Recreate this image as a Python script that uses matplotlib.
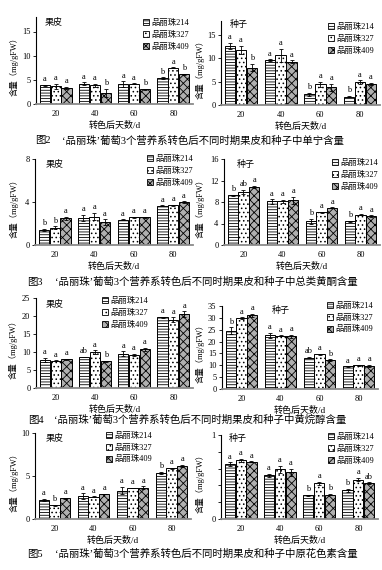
import matplotlib
matplotlib.use('Agg')
import matplotlib.pyplot as plt
from matplotlib.patches import Patch
import numpy as np

plt.rcParams['font.family'] = ['Liberation Serif', 'Noto Sans CJK SC']
plt.rcParams['hatch.linewidth'] = 0.6
plt.rcParams['axes.unicode_minus'] = False

W, H = 382, 570
fig = plt.figure(figsize=(W / 100, H / 100), dpi=100)

days = ['20', '40', '60', '80']
clones = ['品丽珠214', '品丽珠327', '品丽珠409']
xlabel_text = '转色后天数/d'
ylabel_text = '含量（mg/gFW）'

# Fig 2: tannin
tannin_skin = [[3.9, 4.2, 4.1, 5.3], [3.7, 3.9, 4.2, 7.5], [3.4, 2.3, 3.1, 6.2]]
tannin_skin_err = [[0.1, 0.3, 0.6, 0.2], [0.5, 0.3, 0.1, 0.1], [0.2, 0.8, 0.1, 0.1]]
tannin_skin_sig = [['a', 'a', 'a', 'b'], ['a', 'a', 'a', 'a'], ['a', 'b', 'b', 'b']]
tannin_seed = [[12.7, 9.6, 2.3, 1.8], [11.8, 10.7, 4.4, 4.9], [8.0, 9.3, 3.8, 4.5]]
tannin_seed_err = [[0.6, 0.2, 0.3, 0.1], [0.9, 1.4, 0.5, 0.4], [0.8, 0.3, 0.8, 0.2]]
tannin_seed_sig = [['a', 'a', 'b', 'b'], ['a', 'a', 'a', 'a'], ['b', 'a', 'a', 'a']]

# Fig 3: total flavonoids
flav_skin = [[1.4, 2.5, 2.35, 3.65], [1.6, 2.65, 2.6, 3.7], [2.5, 2.15, 2.6, 4.0]]
flav_skin_err = [[0.1, 0.3, 0.05, 0.05], [0.15, 0.35, 0.05, 0.05], [0.15, 0.25, 0.05, 0.05]]
flav_skin_sig = [['b', 'a', 'a', 'a'], ['b', 'a', 'a', 'a'], ['a', 'a', 'a', 'a']]
flav_seed = [[9.25, 8.1, 4.4, 4.4], [9.9, 8.1, 6.1, 5.65], [10.75, 8.3, 6.9, 5.4]]
flav_seed_err = [[0.1, 0.4, 0.5, 0.05], [0.4, 0.3, 0.1, 0.1], [0.2, 0.7, 0.1, 0.1]]
flav_seed_sig = [['b', 'a', 'b', 'b'], ['ab', 'a', 'a', 'a'], ['a', 'a', 'a', 'a']]

# Fig 4: flavanols
flavanol_skin = [[7.8, 8.6, 9.5, 19.6], [7.6, 10.0, 9.1, 18.9], [8.0, 7.4, 10.7, 20.5]]
flavanol_skin_err = [[0.5, 0.1, 0.7, 0.2], [0.1, 0.5, 0.3, 0.7], [0.1, 0.2, 0.5, 0.8]]
flavanol_skin_sig = [['a', 'ab', 'a', 'a'], ['a', 'a', 'a', 'a'], ['a', 'b', 'a', 'a']]
flavanol_seed = [[24.5, 22.7, 13.2, 9.5], [29.9, 22.5, 14.6, 10.0], [31.0, 22.2, 12.1, 9.7]]
flavanol_seed_err = [[1.5, 1.0, 0.3, 0.1], [0.3, 0.1, 0.1, 0.1], [0.8, 0.7, 0.4, 0.4]]
flavanol_seed_sig = [['b', 'a', 'ab', 'a'], ['a', 'a', 'a', 'a'], ['a', 'a', 'b', 'a']]

# Fig 5: proanthocyanidins
pa_skin = [[2.25, 2.65, 3.3, 5.35], [1.6, 2.6, 3.6, 5.9], [2.4, 2.9, 3.65, 6.2]]
pa_skin_err = [[0.1, 0.35, 0.45, 0.1], [0.05, 0.05, 0.05, 0.05], [0.05, 0.05, 0.15, 0.1]]
pa_skin_sig = [['a', 'a', 'a', 'b'], ['b', 'a', 'a', 'a'], ['a', 'a', 'a', 'a']]
pa_seed = [[0.655, 0.52, 0.28, 0.34], [0.70, 0.59, 0.425, 0.47], [0.68, 0.555, 0.29, 0.425]]
pa_seed_err = [[0.02, 0.02, 0.01, 0.02], [0.02, 0.04, 0.02, 0.02], [0.005, 0.04, 0.01, 0.01]]
pa_seed_sig = [['a', 'a', 'b', 'b'], ['a', 'a', 'a', 'a'], ['a', 'a', 'b', 'ab']]

captions = [
    ('图2', '‘品丽珠’葡萄3个营养系转色后不同时期果皮和种子中单宁含量'),
    ('图3', '‘品丽珠’葡萄3个营养系转色后不同时期果皮和种子中总类黄酮含量'),
    ('图4', '‘品丽珠’葡萄3个营养系转色后不同时期果皮和种子中黄烷醇含量'),
    ('图5', '‘品丽珠’葡萄3个营养系转色后不同时期果皮和种子中原花色素含量'),
]

styles = [dict(facecolor='white', hatch='------'),
          dict(facecolor='white', hatch='....'),
          dict(facecolor='#b0b0b0', hatch='xxxx')]


def fx(px):
    return px / W


def fy(py):
    return 1 - py / H


def panel(rect, vals, errs, sigs, ylim, yticks, yticklabels, title, title_xy,
          leg_xy, ylab_x):
    l, t, r, b = rect
    ax = fig.add_axes([fx(l), fy(b), (r - l) / W, (b - t) / H])
    x = np.arange(len(days))
    w = 0.26
    for i in range(3):
        xs = x + (i - 1) * 0.275
        ax.bar(xs, vals[i], w, edgecolor='black', linewidth=0.7, zorder=2, **styles[i])
        ax.errorbar(xs, vals[i], yerr=errs[i], fmt='none', ecolor='black',
                    elinewidth=0.6, capsize=1.5, capthick=0.6, zorder=3)
        for xx, v, e, s in zip(xs, vals[i], errs[i], sigs[i]):
            ax.annotate(s, (xx, v + e), xytext=(0, 1.2), textcoords='offset points',
                        ha='center', va='bottom', fontsize=6)
    ax.set_xlim(-0.5, 3.5)
    ax.set_ylim(*ylim)
    ax.set_yticks(yticks)
    ax.set_yticklabels(yticklabels)
    ax.set_xticks(x)
    ax.set_xticklabels(days)
    ax.tick_params(axis='x', length=0, pad=4, labelsize=6)
    ax.tick_params(axis='y', length=2, width=0.6, pad=2, labelsize=6, direction='out')
    for s in ('top', 'right'):
        ax.spines[s].set_visible(False)
    ax.spines['left'].set_linewidth(0.8)
    ax.spines['bottom'].set_linewidth(1.3)
    ax.spines['bottom'].set_color('#8a8a8a')
    ax.patch.set_alpha(0)
    fig.text(fx((l + r) / 2), fy(b + 21.5), xlabel_text, ha='center', va='center', fontsize=6.5)
    fig.text(fx(ylab_x), fy((t + b) / 2 + 4), ylabel_text, rotation=90, ha='center',
             va='center', fontsize=6)
    fig.text(fx(title_xy[0]), fy(title_xy[1]), title, ha='left', va='center', fontsize=6.5)
    handles = [Patch(edgecolor='black', linewidth=0.6, **st) for st in styles]
    ax.legend(handles, clones, loc='upper left',
              bbox_to_anchor=(fx(leg_xy[0]), fy(leg_xy[1] - 5)),
              bbox_transform=fig.transFigure, frameon=False, fontsize=6,
              handlelength=0.75, handleheight=0.75, handletextpad=0.25,
              labelspacing=0.45, borderpad=0, borderaxespad=0)
    return ax


# Row 1 - Fig 2
panel((36, 17, 193, 104), tannin_skin, tannin_skin_err, tannin_skin_sig,
      (0, 18), [0, 5, 10, 15], ['0', '5', '10', '15'], '果皮', (45, 23), (143, 24), 14)
panel((221, 21, 380, 105), tannin_seed, tannin_seed_err, tannin_seed_sig,
      (0, 18), [0, 5, 10, 15], ['0', '5', '10', '15'], '种子', (230, 24), (328, 28), 200)

# Row 2 - Fig 3
panel((35, 159, 193, 245), flav_skin, flav_skin_err, flav_skin_sig,
      (0, 8), [0, 4, 8], ['0', '4', '8'], '果皮', (46, 164), (147, 160), 14)
panel((224, 159, 380, 245), flav_seed, flav_seed_err, flav_seed_sig,
      (0, 16), [0, 4, 8, 12, 16], ['0', '4', '8', '12', '16'], '种子', (237, 164), (332, 164), 200)

# Row 3 - Fig 4
panel((36, 298, 193, 388), flavanol_skin, flavanol_skin_err, flavanol_skin_sig,
      (0, 25), [0, 5, 10, 15, 20, 25], ['0', '5', '10', '15', '20', '25'], '果皮', (46, 304),
      (102, 302), 13)
panel((222, 306, 378, 389), flavanol_seed, flavanol_seed_err, flavanol_seed_sig,
      (0, 35), [0, 5, 10, 15, 20, 25, 30, 35], ['0', '5', '10', '15', '20', '25', '30', '35'],
      '种子', (272, 310), (327, 307), 200)

# Row 4 - Fig 5
panel((35, 433, 191, 519), pa_skin, pa_skin_err, pa_skin_sig,
      (0, 10), [0, 5, 10], ['0', '5', '10'], '果皮', (46, 438), (106, 437), 14)
panel((221, 435, 378, 519), pa_seed, pa_seed_err, pa_seed_sig,
      (0, 1), [0, 0.2, 0.4, 0.6, 0.8, 1.0], ['0', '', '', '', '', '1'], '种子', (229, 438),
      (328, 438), 200)

cap_pos = [(35, 62, 141), (27, 55, 282), (28, 54, 420), (27, 55, 554)]
for (num, txt), (x1, x2, y) in zip(captions, cap_pos):
    fig.text(fx(x1), fy(y), num, ha='left', va='center', fontsize=7.5)
    fig.text(fx(x2), fy(y), txt, ha='left', va='center', fontsize=7.5)

fig.savefig('out.png', dpi=100)
